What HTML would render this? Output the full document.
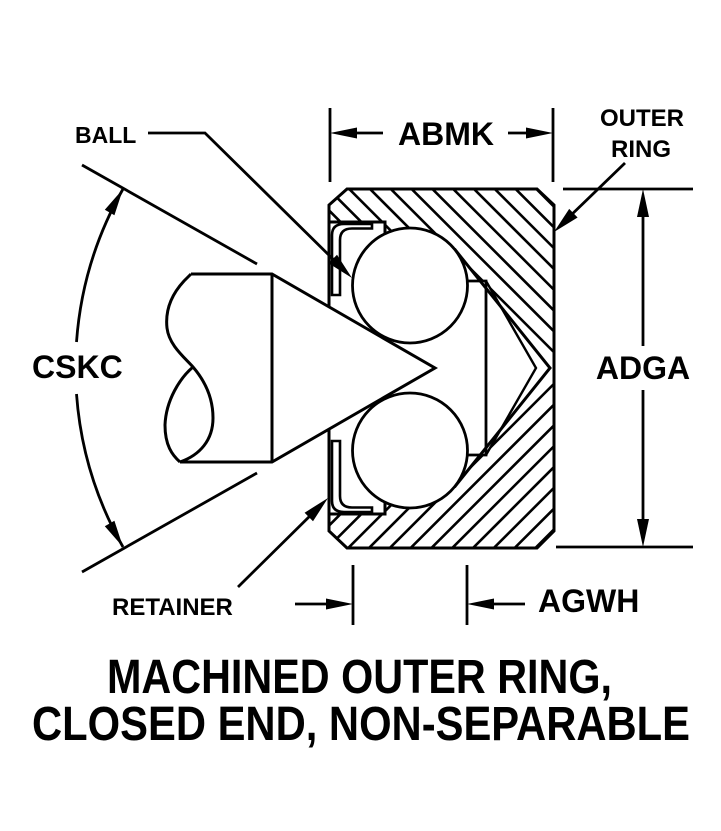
<!DOCTYPE html>
<html>
<head>
<meta charset="utf-8">
<style>
  html, body { margin: 0; padding: 0; background: #fff; }
  svg { display: block; }
  text { font-family: "Liberation Sans", Arial, sans-serif; font-weight: bold; fill: #000; }
</style>
</head>
<body>
<svg width="721" height="831" viewBox="0 0 721 831" xmlns="http://www.w3.org/2000/svg">
  <defs>
    <clipPath id="topHatch">
      <polygon points="329,205 347,189 537,189 554,205 554,368 550,368 454.5,249 440,250 385,240 385,222 329,222"/>
    </clipPath>
    <clipPath id="botHatch">
      <polygon points="329,531 347,548 537,548 554,531 554,368 550,368 454.5,487 440,486 385,496 385,514 329,514"/>
    </clipPath>
  </defs>

  <rect width="721" height="831" fill="#fff"/>

  <!-- hatching -->
  <g clip-path="url(#topHatch)" stroke="#000" stroke-width="2.6" fill="none">
    <path d="M132.2 180L327.2 375M153 180L348 375M173.8 180L368.8 375M194.6 180L389.6 375M215.4 180L410.4 375M236.2 180L431.2 375M257 180L452 375M277.8 180L472.8 375M298.6 180L493.6 375M319.4 180L514.4 375M340.2 180L535.2 375M361 180L556 375M381.8 180L576.8 375M402.6 180L597.6 375M423.4 180L618.4 375M444.2 180L639.2 375M465 180L660 375M485.8 180L680.8 375M506.6 180L701.6 375M527.4 180L722.4 375M548.2 180L743.2 375"/>
  </g>
  <g clip-path="url(#botHatch)" stroke="#000" stroke-width="2.6" fill="none">
    <path d="M328.2 360L133.2 555M349 360L154 555M369.8 360L174.8 555M390.6 360L195.6 555M411.4 360L216.4 555M432.2 360L237.2 555M453 360L258 555M473.8 360L278.8 555M494.6 360L299.6 555M515.4 360L320.4 555M536.2 360L341.2 555M557 360L362 555M577.8 360L382.8 555M598.6 360L403.6 555M619.4 360L424.4 555M640.2 360L445.2 555M661 360L466 555M681.8 360L486.8 555M702.6 360L507.6 555M723.4 360L528.4 555M744.2 360L549.2 555"/>
  </g>

  <!-- inner race (white) -->
  <polygon points="467,281 486,281 536,368 486,455 467,455" fill="#fff"/>

  <g stroke="#000" fill="none" stroke-width="3" stroke-linejoin="miter">
    <!-- ring outline -->
    <path d="M329,307 L329,205 L347,189 L537,189 L554,205 L554,531 L537,548 L347,548 L329,531 L329,429"/>
    <!-- ring inner edges -->
    <path d="M329,222 L385,222 L385,236"/>
    <path d="M329,514 L385,514 L385,500"/>
    <path d="M454.5,249 L550,368 L454.5,487"/>
    <!-- inner race lines -->
    <path d="M467,281 L486,281 L486,455 L467,455" stroke-width="2.8"/>
    <path d="M486,281 L536,368 L486,455" stroke-width="2.4"/>
  </g>

  <!-- balls -->
  <circle cx="410" cy="285.5" r="57.5" fill="#fff" stroke="#000" stroke-width="2.8"/>
  <circle cx="410" cy="450.5" r="57.5" fill="#fff" stroke="#000" stroke-width="2.8"/>

  <!-- retainers -->
  <g stroke="#000" fill="#fff" stroke-width="2.6">
    <path d="M332,295 L332,235 Q332,224 344,224 L372,224 L372,228.5 L352,228.5 Q340,228.5 340,240 L340,295 Z"/>
    <path d="M332,441 L332,501 Q332,512 344,512 L372,512 L372,507.5 L352,507.5 Q340,507.5 340,496 L340,441 Z"/>
  </g>

  <!-- cutter -->
  <g stroke="#000" fill="none" stroke-width="3">
    <path d="M191,274 L272,274 L435,368 L272,462 L180,462"/>
    <path d="M272,274 L272,462"/>
    <path d="M191,274 L184,281 C172,294 165,310 167,328 C169,345 184,357 193,367 C205,381 213,398 213,418 C213,440 200,455 180,462"/>
    <path d="M193,367 C180,378 166,400 165,425 C165,445 172,455 180,462"/>
  </g>

  <!-- CSKC angle -->
  <g stroke="#000" fill="none" stroke-width="2.8">
    <path d="M82,165 L257,264"/>
    <path d="M82,572 L257,473"/>
    <path d="M123,189 A361.4,361.4 0 0 0 76.5,342"/>
    <path d="M76.5,394 A361.4,361.4 0 0 0 123,547"/>
  </g>
  <polygon points="123,189 114.4,215.2 104.8,209.8" fill="#000"/>
  <polygon points="123,547 114.4,520.8 104.8,526.2" fill="#000"/>

  <!-- BALL leader -->
  <g stroke="#000" fill="none" stroke-width="2.8">
    <path d="M148,133 L205,133 L340,266"/>
  </g>
  <polygon points="352,278 328.6,263.3 337,254.7" fill="#000"/>

  <!-- OUTER RING leader -->
  <path d="M625,163 L566,220" stroke="#000" stroke-width="2.8" fill="none"/>
  <polygon points="554,232 577.6,217.5 569.2,208.9" fill="#000"/>

  <!-- RETAINER leader -->
  <path d="M238,587 L318,508" stroke="#000" stroke-width="2.8" fill="none"/>
  <polygon points="328,498 313,521.3 304.6,512.7" fill="#000"/>

  <!-- ABMK dimension -->
  <g stroke="#000" fill="none" stroke-width="2.8">
    <path d="M330,108 L330,182"/>
    <path d="M553,108 L553,182"/>
    <path d="M340,133 L383,133"/>
    <path d="M508,133 L543,133"/>
  </g>
  <polygon points="330,133 357,127.5 357,138.5" fill="#000"/>
  <polygon points="553,133 526,127.5 526,138.5" fill="#000"/>

  <!-- ADGA dimension -->
  <g stroke="#000" fill="none" stroke-width="2.8">
    <path d="M563,189 L693,189"/>
    <path d="M556,547 L693,547"/>
    <path d="M643,200 L643,346"/>
    <path d="M643,390 L643,537"/>
  </g>
  <polygon points="643,189 637,217 649,217" fill="#000"/>
  <polygon points="643,547 637,519 649,519" fill="#000"/>

  <!-- AGWH dimension -->
  <g stroke="#000" fill="none" stroke-width="2.8">
    <path d="M353,565 L353,625"/>
    <path d="M467,565 L467,625"/>
    <path d="M295,604 L343,604"/>
    <path d="M477,604 L525,604"/>
  </g>
  <polygon points="353,604 326,598.5 326,609.5" fill="#000"/>
  <polygon points="467,604 494,598.5 494,609.5" fill="#000"/>

  <!-- labels -->
  <text x="75" y="143" font-size="23">BALL</text>
  <text x="642" y="126" font-size="24" text-anchor="middle">OUTER</text>
  <text x="641" y="157" font-size="24" text-anchor="middle">RING</text>
  <text x="112" y="615" font-size="24">RETAINER</text>
  <text x="398" y="145" font-size="32">ABMK</text>
  <text x="32" y="378" font-size="32">CSKC</text>
  <text x="643" y="379" font-size="32" text-anchor="middle">ADGA</text>
  <text x="538" y="612" font-size="32">AGWH</text>

  <!-- title -->
  <text x="107" y="693" font-size="48" textLength="505" lengthAdjust="spacingAndGlyphs">MACHINED OUTER RING,</text>
  <text x="32" y="740" font-size="48" textLength="658" lengthAdjust="spacingAndGlyphs">CLOSED END, NON-SEPARABLE</text>
</svg>
</body>
</html>
